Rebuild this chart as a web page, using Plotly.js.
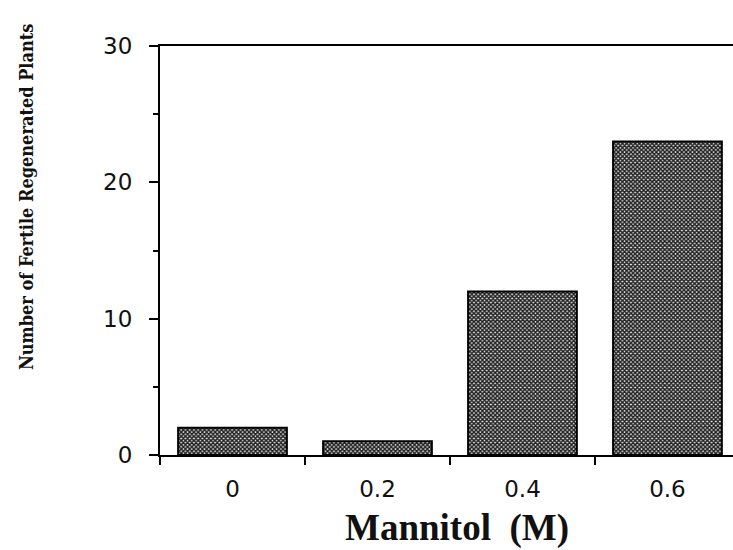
<!DOCTYPE html>
<html>
<head>
<meta charset="utf-8">
<script src="https://cdn.plot.ly/plotly-3.0.1.min.js"></script>
<style>html,body{margin:0;padding:0;background:#fff;}#chart{width:733px;height:550px;}</style>
</head>
<body>
<div id="chart"></div>
<script>
const categories = ["0", "0.2", "0.4", "0.6"];
const plants = [2, 1, 12, 23];
const yTicks = [0, 10, 20, 30];
const xTitle = "Mannitol  (M)";
const yTitle = "Number of Fertile Regenerated Plants";

const trace = {
  type: "bar",
  x: categories,
  y: plants,
  width: 0.75,
  marker: {
    color: "#ffffff",
    line: {color: "#000000", width: 2},
    pattern: {shape: "x", size: 3, solidity: 0.75, fgcolor: "#222222", bgcolor: "#eeeeee"}
  },
  hoverinfo: "skip"
};

const layout = {
  width: 733, height: 550,
  margin: {l: 160, r: 0, t: 46, b: 95},
  paper_bgcolor: "#ffffff", plot_bgcolor: "#ffffff",
  showlegend: false,
  xaxis: {
    type: "category",
    range: [-0.5, 3.452],
    tickson: "boundaries",
    ticks: "outside", ticklen: 8, tickwidth: 2, tickcolor: "#000",
    showline: true, linecolor: "#000", linewidth: 2, mirror: true,
    showgrid: false, zeroline: false,
    tickfont: {family: "DejaVu Sans", size: 23, color: "#111"},
    ticklabelstandoff: 12
  },
  yaxis: {
    range: [0, 30],
    tickvals: yTicks,
    ticktext: yTicks.map(String),
    ticks: "outside", ticklen: 9, tickwidth: 2, tickcolor: "#000",
    minor: {tickvals: [5, 15, 25], ticks: "outside", ticklen: 5, tickwidth: 2, tickcolor: "#000", showgrid: false},
    showline: true, linecolor: "#000", linewidth: 2,
    showgrid: false, zeroline: false,
    tickfont: {family: "DejaVu Sans", size: 23, color: "#111"},
    ticklabelstandoff: 12
  },
  annotations: [
    {text: "<b>" + yTitle + "</b>", xref: "paper", yref: "paper",
     x: -0.233, y: 0.632, xanchor: "center", yanchor: "middle", textangle: -90, showarrow: false,
     font: {family: "DejaVu Serif Condensed, DejaVu Serif", size: 18, color: "#111"}},
    {text: "<b>" + xTitle + "</b>", xref: "paper", yref: "paper",
     x: 0.518, y: -0.178, xanchor: "center", yanchor: "middle", showarrow: false,
     font: {family: "Liberation Serif", size: 37, color: "#111"}}
  ]
};

Plotly.newPlot("chart", [trace], layout, {staticPlot: true, displayModeBar: false});
</script>
</body>
</html>
